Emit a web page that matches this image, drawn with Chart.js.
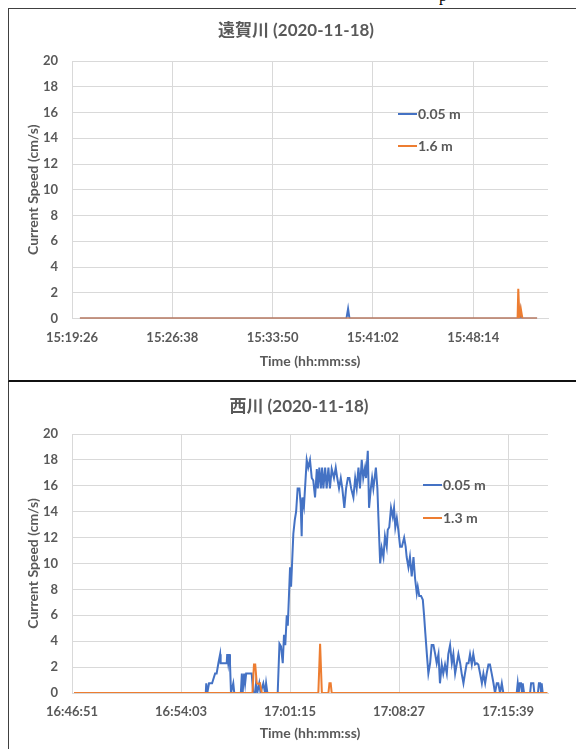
<!DOCTYPE html>
<html><head><meta charset="utf-8">
<script src="https://cdn.jsdelivr.net/npm/chart.js@4.4.0/dist/chart.umd.min.js"></script>
<style>
html,body{margin:0;padding:0;background:#fff;width:576px;height:749px;overflow:hidden;position:relative}
.frame{position:absolute;box-sizing:border-box}
#f1{left:8px;top:8px;width:640px;height:374px;border:1px solid #404040;border-bottom:2px solid #111}
#f2{left:8px;top:382px;width:640px;height:400px;border-left:1px solid #404040}
.wrap{position:absolute;left:0}
#w1{top:0;width:576px;height:380px}
#w2{top:383px;width:576px;height:366px}
#frag{position:absolute;left:439px;top:-12px;font:16px "Liberation Serif",serif;line-height:16px;color:#000}
</style></head>
<body>
<div id="frag">p</div>
<div class="frame" id="f1"></div>
<div class="frame" id="f2"></div>
<div class="wrap" id="w1"><canvas id="c1" width="576" height="380"></canvas></div>
<div class="wrap" id="w2"><canvas id="c2" width="576" height="366"></canvas></div>
<script>
// ---------- shared text ----------
const yAxisTitle = "Current Speed (cm/s)";
const xAxisTitle = "Time (hh:mm:ss)";
const speedMin = 0, speedMax = 20, speedStep = 2;

// ---------- 遠賀川 ----------
const ongaTitle = "遠賀川 (2020-11-18)";
const ongaTickLabels = ["15:19:26", "15:26:38", "15:33:50", "15:41:02", "15:48:14"];
const ongaAxisEnd = "15:53:36";
const ongaSeriesNames = ["0.05 m", "1.6 m"];
// elapsed seconds from 15:19:26
const ongaTimeA = [34, 1182, 1189, 1195, 1925, 1930, 1934, 2003];
const ongaSpeedA = [0, 0, 0.75, 0, 0, 0.6, 0, 0];
const ongaTimeB = [34, 1919, 1922, 1927, 1933, 1937, 1940, 2003];
const ongaSpeedB = [0, 0, 2.3, 0, 0.75, 0.3, 0, 0];

// ---------- 西川 ----------
const nishiTitle = "西川 (2020-11-18)";
const nishiTickLabels = ["16:46:51", "16:54:03", "17:01:15", "17:08:27", "17:15:39"];
const nishiAxisEnd = "17:18:17";
const nishiSeriesNames = ["0.05 m", "1.3 m"];
// elapsed seconds from 16:46:51
const nishiTimeA = [
  8,530,532,536,543,555,567,573,580,587,
  589,600,613,615,619,623,626,630,639,643,
  669,673,676,682,686,690,703,712,718,725,
  729,734,742,747,758,765,769,774,815,822,
  828,835,840,845,851,855,860,864,868,877,
  883,888,894,901,906,910,913,919,930,936,
  943,950,956,963,970,974,980,986,991,996,
  1003,1009,1016,1022,1029,1038,1045,1051,1058,1065,
  1071,1079,1086,1093,1099,1106,1115,1122,1128,1135,
  1141,1148,1154,1161,1165,1172,1177,1184,1189,1194,
  1204,1210,1214,1221,1227,1234,1240,1247,1251,1257,
  1264,1271,1276,1281,1287,1293,1300,1307,1316,1322,
  1326,1333,1339,1346,1353,1359,1366,1370,1376,1383,
  1390,1395,1400,1406,1412,1419,1425,1432,1439,1445,
  1452,1458,1465,1471,1478,1485,1491,1498,1505,1511,
  1518,1525,1531,1538,1544,1551,1557,1564,1571,1577,
  1584,1590,1597,1604,1610,1617,1624,1630,1637,1643,
  1650,1656,1663,1670,1676,1683,1689,1696,1703,1709,
  1762,1766,1770,1774,1779,1783,1786,1791,1815,1819,
  1828,1832,1846,1850,1855,1859,1861,1865,1881
];
const nishiSpeedA = [
  0,0,0.75,0,0.75,0.75,1.5,1.5,2.3,3.0,
  2.3,2.3,2.3,3.0,2.3,3.0,2.3,0,0.75,0,
  0,1.5,0,1.5,0.75,1.5,1.5,1.5,0,0,
  0.75,0,0.75,0,0.75,0,0.75,0,0,3.8,
  3.6,2.3,4.5,3.7,6.0,5.2,7.7,9.7,8.2,12.3,
  13.4,14.0,15.8,15.8,14.6,12.1,15.1,14.4,18.0,17.4,
  18.0,16.6,16.4,15.1,17.3,15.8,17.4,15.8,17.4,15.8,
  17.4,15.8,17.4,15.8,17.3,16.6,17.4,16.6,15.8,16.6,
  15.8,14.3,15.8,16.6,16.6,15.8,15.1,16.6,15.8,17.4,
  15.8,18.0,16.6,17.4,16.6,18.7,14.3,15.8,16.6,15.8,
  17.4,15.8,13.6,10.0,11.2,10.5,12.1,11.3,12.6,12.8,
  14.3,13.6,14.3,12.8,13.5,12.6,11.3,11.3,12.0,11.3,
  10.5,9.7,10.5,9.0,10.5,8.9,7.7,8.2,7.5,7.5,
  7.2,6.0,4.6,3.0,1.5,2.3,3.7,3.7,3.0,2.3,
  3.0,0.75,2.2,1.5,2.2,1.5,3.0,3.7,2.3,3.0,
  1.5,2.3,3.0,2.3,1.5,0.75,1.5,2.3,2.3,3.0,
  2.2,3.0,2.2,2.3,2.2,1.5,0.75,1.5,0.75,1.5,
  2.2,2.2,1.5,0.75,0,0.75,0.75,0,0.75,0,
  0,0.75,0,0.75,0.75,0,0.75,0,0,0.75,
  0.75,0,0,0.75,0.75,0,0.75,0,0
];
const nishiTimeB = [8, 715, 721, 726, 732, 738, 745, 752, 976, 983, 990, 1016, 1020, 1025, 1029, 1884];
const nishiSpeedB = [0, 0, 2.2, 2.2, 0.75, 0.7, 0.75, 0, 0, 3.8, 0, 0, 0.75, 0.75, 0, 0];

// ---------- helpers ----------
const BLUE = "#4472C4", ORANGE = "#ED7D31", TXT = "#595959", GRID = "#d9d9d9";
const FAM = 'Lato, "Noto Sans CJK JP", sans-serif';
Chart.defaults.font.family = FAM;
Chart.defaults.color = TXT;

function toSec(s) { const p = s.split(":").map(Number); return p[0]*3600 + p[1]*60 + p[2]; }
function fmt(v) {
  v = Math.round(v);
  const h = Math.floor(v/3600), m = Math.floor((v%3600)/60), s = v%60;
  const z = n => String(n).padStart(2, "0");
  return z(h) + ":" + z(m) + ":" + z(s);
}
function pts(start, times, vals) { return times.map((t, i) => ({x: start + t, y: vals[i]})); }

const panelText = {
  id: "panelText",
  afterDraw(chart, args, o) {
    const ctx = chart.ctx;
    ctx.save();
    ctx.fillStyle = TXT;
    ctx.font = 'bold 17px ' + FAM;
    ctx.textAlign = "center"; ctx.textBaseline = "middle";
    ctx.fillText(o.title, o.titleX, o.titleY);
    ctx.font = 'bold 14px ' + FAM;
    ctx.textAlign = "left";
    chart.data.datasets.forEach((ds, i) => {
      const y = o.legendY + i * o.legendGap;
      ctx.strokeStyle = ds.borderColor; ctx.lineWidth = 2;
      ctx.beginPath(); ctx.moveTo(o.legendX, y); ctx.lineTo(o.legendX + 19, y); ctx.stroke();
      ctx.fillStyle = TXT;
      ctx.fillText(ds.label, o.legendX + 20, y + 0.5);
    });
    ctx.restore();
  }
};

function makeChart(id, cfg) {
  const start = toSec(cfg.ticks[0]);
  const tickVals = cfg.ticks.map(toSec);
  return new Chart(document.getElementById(id), {
    type: "line",
    data: {
      datasets: [
        {label: cfg.names[0], data: pts(start, cfg.tA, cfg.vA), borderColor: BLUE, backgroundColor: BLUE, borderWidth: 2, pointRadius: 0, tension: 0, order: 1},
        {label: cfg.names[1], data: pts(start, cfg.tB, cfg.vB), borderColor: ORANGE, backgroundColor: ORANGE, borderWidth: 2, pointRadius: 0, tension: 0, order: 0}
      ]
    },
    options: {
      responsive: false, animation: false, devicePixelRatio: 1,
      layout: {padding: {top: cfg.padTop, right: 28, left: 0, bottom: 0}},
      plugins: {legend: {display: false}, title: {display: false}, tooltip: {enabled: false},
        panelText: {title: cfg.title, titleX: cfg.titleX, titleY: cfg.titleY, legendX: cfg.legendX, legendY: cfg.legendY, legendGap: cfg.legendGap}},
      scales: {
        x: {
          type: "linear", min: start, max: toSec(cfg.end),
          afterBuildTicks: s => { s.ticks = tickVals.map(v => ({value: v})); },
          afterFit: s => { s.height = cfg.xH; },
          ticks: {callback: v => fmt(v), maxRotation: 0, autoSkip: false, padding: cfg.xTickPad, color: TXT, font: {size: 13, weight: "bold"}},
          grid: {color: GRID, drawTicks: false, lineWidth: 1},
          border: {display: true, color: GRID},
          title: {display: true, text: xAxisTitle, color: TXT, font: {size: 14, weight: "bold"}, padding: {top: 0, bottom: cfg.xTitlePad}}
        },
        y: {
          min: speedMin, max: speedMax,
          afterFit: s => { s.width = 72; },
          ticks: {stepSize: speedStep, padding: 14, color: TXT, font: {size: 13, weight: "bold"}},
          grid: {color: GRID, drawTicks: false, lineWidth: 1},
          border: {display: true, color: GRID},
          title: {display: true, text: yAxisTitle, color: TXT, font: {size: 14, weight: "bold"}, padding: {top: 24.6, bottom: 0}}
        }
      }
    },
    plugins: [panelText]
  });
}

makeChart("c1", {
  ticks: ongaTickLabels, end: ongaAxisEnd, names: ongaSeriesNames,
  tA: ongaTimeA, vA: ongaSpeedA, tB: ongaTimeB, vB: ongaSpeedB,
  title: ongaTitle, titleX: 296, titleY: 31,
  legendX: 398, legendY: 114, legendGap: 32,
  padTop: 61, xH: 61.5, xTickPad: 12, xTitlePad: 10.6
});
makeChart("c2", {
  ticks: nishiTickLabels, end: nishiAxisEnd, names: nishiSeriesNames,
  tA: nishiTimeA, vA: nishiSpeedA, tB: nishiTimeB, vB: nishiSpeedB,
  title: nishiTitle, titleX: 299, titleY: 24,
  legendX: 423, legendY: 102, legendGap: 33,
  padTop: 51, xH: 56, xTickPad: 11, xTitlePad: 7.6
});
</script>
</body></html>
